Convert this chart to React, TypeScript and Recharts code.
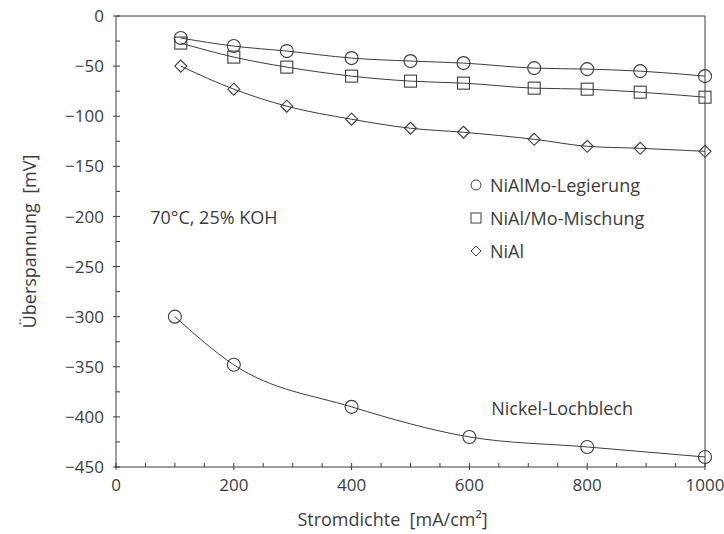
import { LineChart, Line, XAxis, YAxis, Legend, ReferenceLine, ReferenceDot } from 'recharts';

// Stromdichte [mA/cm²] for the three coated electrodes
const stromBeschichtet = [110, 200, 290, 400, 500, 590, 710, 800, 890, 1000];
const legierung = [-22, -30, -35, -42, -45, -47, -52, -53, -55, -60];
const mischung = [-27, -41, -51, -60, -65, -67, -72, -73, -76, -81];
const nial = [-50, -73, -90, -103, -112, -116, -123, -130, -132, -135];

// plain nickel sheet
const stromBlech = [100, 200, 400, 600, 800, 1000];
const lochblech = [-300, -348, -390, -420, -430, -440];

const xTicks = [0, 50, 100, 150, 200, 250, 300, 350, 400, 450, 500, 550, 600, 650, 700, 750, 800, 850, 900, 950, 1000];
const yTicks = [0, -25, -50, -75, -100, -125, -150, -175, -200, -225, -250, -275, -300, -325, -350, -375, -400, -425, -450];

const toRows = (xs: number[], ys: number[]) => xs.map((x, i) => ({ x, y: ys[i] }));

const ink = '#3c3c3c';
const font = '"Open Sans", "Noto Sans", sans-serif';

const Ring = (p: any) =>
  p.cx == null ? null : (
    <circle key={`r-${p.index}`} cx={p.cx} cy={p.cy} r={6.5} fill="none" stroke={ink} strokeWidth={1.1} />
  );
const Box = (p: any) =>
  p.cx == null ? null : (
    <rect key={`b-${p.index}`} x={p.cx - 6} y={p.cy - 6} width={12} height={12} fill="none" stroke={ink} strokeWidth={1.1} />
  );
const Rhomb = (p: any) =>
  p.cx == null ? null : (
    <polygon
      key={`d-${p.index}`}
      points={`${p.cx},${p.cy - 6} ${p.cx + 6},${p.cy} ${p.cx},${p.cy + 6} ${p.cx - 6},${p.cy}`}
      fill="none"
      stroke={ink}
      strokeWidth={1.1}
    />
  );

const fmt = (v: number) => (v < 0 ? `\u2212${Math.abs(v)}` : `${v}`);

const YTick = ({ x, y, payload }: any) => {
  const major = payload.value % 50 === 0;
  return (
    <g>
      <line x1={major ? x - 3 : x} x2={x + 4} y1={y} y2={y} stroke={ink} />
      {major && (
        <text x={x - 12} y={y} dy="0.36em" textAnchor="end" fontSize={17} fontFamily={font} fill={ink}>
          {fmt(payload.value)}
        </text>
      )}
    </g>
  );
};

const XTick = ({ x, y, payload }: any) => {
  const major = payload.value % 200 === 0;
  return (
    <g>
      <line x1={x} x2={x} y1={major ? y + 3 : y} y2={y - 4} stroke={ink} />
      {major && (
        <text x={x} y={y + 24} textAnchor="middle" fontSize={17} fontFamily={font} fill={ink}>
          {fmt(payload.value)}
        </text>
      )}
    </g>
  );
};

const legendOrder = ['NiAlMo-Legierung', 'NiAl/Mo-Mischung', 'NiAl'];
const legendShapes: Record<string, string> = {
  'NiAlMo-Legierung': 'circle',
  'NiAl/Mo-Mischung': 'square',
  NiAl: 'diamond',
};

const LegendSymbol = ({ kind }: { kind: string }) => (
  <svg width={12} height={12} style={{ marginRight: 8 }}>
    {kind === 'circle' && <circle cx={6} cy={6} r={5} fill="none" stroke={ink} />}
    {kind === 'square' && <rect x={1} y={1} width={10} height={10} fill="none" stroke={ink} />}
    {kind === 'diamond' && <polygon points="6,1 11,6 6,11 1,6" fill="none" stroke={ink} />}
  </svg>
);

const renderLegend = (props: any) => {
  const items = (props.payload || [])
    .filter((e: any) => legendShapes[e.value])
    .sort((a: any, b: any) => legendOrder.indexOf(a.value) - legendOrder.indexOf(b.value));
  return (
    <div style={{ fontFamily: font, fontSize: 18, color: ink }}>
      {items.map((e: any) => (
        <div key={e.value} style={{ display: 'flex', alignItems: 'center', height: 33 }}>
          <LegendSymbol kind={legendShapes[e.value]} />
          <span>{e.value}</span>
        </div>
      ))}
    </div>
  );
};

export default function App() {
  return (
    <div style={{ position: 'absolute', left: 0, top: 0, background: '#fff' }}>
      <LineChart width={724} height={534} margin={{ top: 16, right: 19, left: 0, bottom: 0 }}>
        <XAxis
          type="number"
          dataKey="x"
          domain={[0, 1000]}
          ticks={xTicks}
          interval={0}
          height={67}
          tickSize={0}
          tickMargin={0}
          tickLine={false}
          tick={<XTick />}
          axisLine={{ stroke: ink }}
          label={{
            value: 'Stromdichte\u00a0 [mA/cm²]',
            position: 'insideBottom',
            offset: 8,
            dx: -18,
            fill: ink,
            fontSize: 18,
            fontFamily: font,
          }}
        />
        <YAxis
          type="number"
          domain={[-450, 0]}
          ticks={yTicks}
          interval={0}
          width={116}
          tickSize={0}
          tickMargin={0}
          tickLine={false}
          tick={<YTick />}
          axisLine={{ stroke: ink }}
          label={{
            value: 'Überspannung\u00a0 [mV]',
            angle: -90,
            position: 'insideLeft',
            offset: 30,
            fill: ink,
            fontSize: 18,
            fontFamily: font,
            style: { textAnchor: 'middle' },
          }}
        />
        <ReferenceLine y={0} stroke={ink} />
        <ReferenceLine x={1000} stroke={ink} />
        <Legend
          layout="vertical"
          align="center"
          verticalAlign="middle"
          content={renderLegend}
          wrapperStyle={{ left: 470, top: 168, width: 240 }}
        />
        <Line
          name="NiAlMo-Legierung"
          data={toRows(stromBeschichtet, legierung)}
          dataKey="y"
          type="monotone"
          stroke={ink}
          strokeWidth={1}
          dot={Ring}
          isAnimationActive={false}
        />
        <Line
          name="NiAl/Mo-Mischung"
          data={toRows(stromBeschichtet, mischung)}
          dataKey="y"
          type="monotone"
          stroke={ink}
          strokeWidth={1}
          dot={Box}
          isAnimationActive={false}
        />
        <Line
          name="NiAl"
          data={toRows(stromBeschichtet, nial)}
          dataKey="y"
          type="monotone"
          stroke={ink}
          strokeWidth={1}
          dot={Rhomb}
          isAnimationActive={false}
        />
        <Line
          name="Nickel-Lochblech"
          data={toRows(stromBlech, lochblech)}
          dataKey="y"
          type="monotone"
          stroke={ink}
          strokeWidth={1}
          dot={Ring}
          legendType="none"
          isAnimationActive={false}
        />
        <ReferenceDot
          x={58}
          y={-201}
          r={0}
          label={{ value: '70°C, 25% KOH', position: 'right', offset: 0, fill: ink, fontSize: 18, fontFamily: font }}
        />
        <ReferenceDot
          x={637}
          y={-392}
          r={0}
          label={{ value: 'Nickel-Lochblech', position: 'right', offset: 0, fill: ink, fontSize: 18, fontFamily: font }}
        />
      </LineChart>
    </div>
  );
}
